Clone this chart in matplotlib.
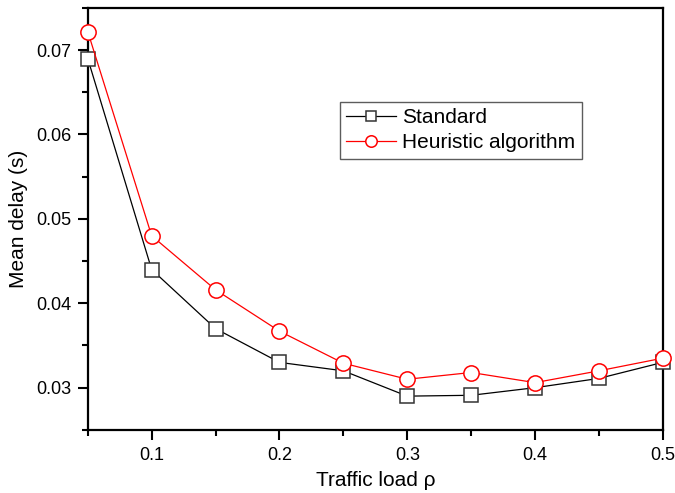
import matplotlib
matplotlib.use("Agg")
import matplotlib.pyplot as plt
from matplotlib.ticker import MultipleLocator

plt.rcParams['font.family'] = ['Liberation Sans', 'DejaVu Sans']

load = [0.05, 0.1, 0.15, 0.2, 0.25, 0.3, 0.35, 0.4, 0.45, 0.5]
standard = [0.0690, 0.0440, 0.0370, 0.0330, 0.0320, 0.0290, 0.0291, 0.0300, 0.0311, 0.0330]
heuristic = [0.0722, 0.0480, 0.0416, 0.0367, 0.0329, 0.0310, 0.0318, 0.0306, 0.0320, 0.0335]

fig = plt.figure(figsize=(6.75, 4.93), dpi=100)
ax = fig.add_axes([0.130, 0.128, 0.852, 0.856])

ax.plot(load, standard, color='black', linewidth=0.9, marker='s', markersize=9.5,
        markerfacecolor='white', markeredgecolor='#333333', markeredgewidth=1.1,
        label='Standard', clip_on=False, zorder=3)
ax.plot(load, heuristic, color='red', linewidth=0.9, marker='o', markersize=11,
        markerfacecolor='white', markeredgecolor='red', markeredgewidth=1.1,
        label='Heuristic algorithm', clip_on=False, zorder=4)

ax.set_xlim(0.05, 0.5)
ax.set_ylim(0.025, 0.075)
ax.xaxis.set_minor_locator(MultipleLocator(0.05))
ax.yaxis.set_minor_locator(MultipleLocator(0.005))
ax.set_xticks([0.1, 0.2, 0.3, 0.4, 0.5])
ax.set_yticks([0.03, 0.04, 0.05, 0.06, 0.07])
ax.tick_params(which='major', direction='out', length=7, width=1.5, labelsize=13, pad=5)
ax.tick_params(which='minor', direction='out', length=4, width=1.5)
for s in ax.spines.values():
    s.set_linewidth(1.6)

ax.set_xlabel('Traffic load ρ', fontsize=15, labelpad=5)
ax.set_ylabel('Mean delay (s)', fontsize=15, labelpad=6)

leg = ax.legend(loc='upper left', bbox_to_anchor=(0.438, 0.777), fontsize=15,
                frameon=True, fancybox=False, edgecolor='#333333', markerscale=0.75,
                handlelength=2.4, handletextpad=0.3, borderpad=0.3, labelspacing=0.3,
                borderaxespad=0)
leg.get_frame().set_linewidth(1.0)

fig.savefig('out.png', dpi=100)
